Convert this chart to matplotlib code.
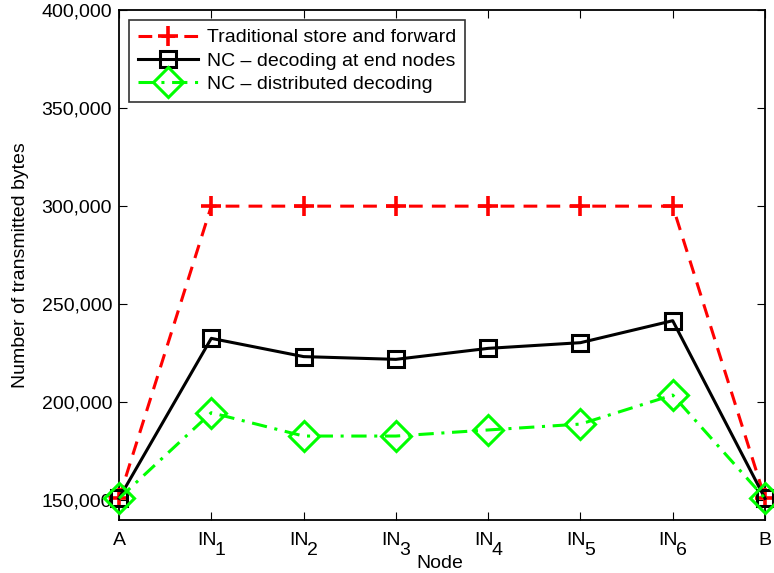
import matplotlib
matplotlib.use("Agg")
import matplotlib.pyplot as plt

plt.rcParams['font.family'] = ['Liberation Sans', 'DejaVu Sans']

node_base = ['A', 'IN', 'IN', 'IN', 'IN', 'IN', 'IN', 'B']
node_sub = ['', '1', '2', '3', '4', '5', '6', '']
traditional = [151000, 300000, 300000, 300000, 300000, 300000, 300000, 151000]
nc_end = [151000, 232600, 223300, 221900, 227500, 230400, 241600, 151000]
nc_dist = [151000, 194700, 182800, 182800, 185900, 188900, 203700, 151000]
yticks = [150000, 200000, 250000, 300000, 350000, 400000]
ytick_labels = ['150,000', '200,000', '250,000', '300,000', '350,000', '400,000']

FS = 14
fig = plt.figure(figsize=(7.74, 5.73), dpi=100)
ax = fig.add_axes([119/774, 1-520/573, (765-119)/774, (520-10)/573])

x = list(range(len(node_base)))
ax.plot(x, traditional, color='#ff0000', linestyle=(0, (4.5, 3)), linewidth=2.2,
        marker='+', markersize=14, markeredgewidth=2.6, clip_on=False, zorder=3,
        label='Traditional store and forward')
ax.plot(x, nc_end, color='black', linestyle='-', linewidth=2.2,
        marker='s', markersize=11, markeredgewidth=2.2, markerfacecolor='none',
        clip_on=False, zorder=4, label='NC \u2013 decoding at end nodes')
ax.plot(x, nc_dist, color='#00ff00', linestyle=(0, (5, 2.5, 1, 2.5)), linewidth=2.2,
        marker='D', markersize=15, markeredgewidth=2.2, markerfacecolor='none',
        clip_on=False, zorder=5, label='NC \u2013 distributed decoding')

ax.set_xlim(0, 7)
ax.set_ylim(140000, 400000)
ax.set_xticks(x)
ax.set_xticklabels([''] * len(x))
ax.set_yticks(yticks)
ax.set_yticklabels(ytick_labels, fontsize=FS)
ax.tick_params(direction='in', top=True, right=True, length=6, width=0.8, pad=5)
for s in ax.spines.values():
    s.set_linewidth(1.3)

# x tick labels with MATLAB-style subscripts (full-size digit, lowered)
fig.canvas.draw()
r = fig.canvas.get_renderer()
base_off = -12
sub_off = -22
for i, (b, s) in enumerate(zip(node_base, node_sub)):
    t1 = ax.annotate(b, xy=(i, 0), xycoords=('data', 'axes fraction'),
                     xytext=(0, base_off), textcoords='offset pixels',
                     ha='left', va='top', fontsize=FS, annotation_clip=False)
    w1 = t1.get_window_extent(r).width
    if s:
        t2 = ax.annotate(s, xy=(i, 0), xycoords=('data', 'axes fraction'),
                         xytext=(0, sub_off), textcoords='offset pixels',
                         ha='left', va='top', fontsize=FS, annotation_clip=False)
        w2 = t2.get_window_extent(r).width
        gap = -2
        total = w1 + gap + w2
        t1.xyann = (-total / 2, base_off)
        t2.xyann = (-total / 2 + w1 + gap, sub_off)
    else:
        t1.xyann = (-w1 / 2, base_off)

ax.set_xlabel('Node', fontsize=FS)
ax.xaxis.label.set_va('center')
ax.xaxis.set_label_coords((440 - 119) / 646, (520 - 563) / 510)
ax.set_ylabel('Number of transmitted bytes', fontsize=FS)
ax.yaxis.label.set_va('center')
ax.yaxis.set_label_coords((21 - 119) / 646, 0.5)

leg = ax.legend(loc='upper left', bbox_to_anchor=(10/646, 500/510), fontsize=FS,
                handlelength=3.1, frameon=True, fancybox=False, edgecolor='black',
                borderpad=0.45, labelspacing=0.3, handletextpad=0.45, borderaxespad=0)
leg.get_frame().set_linewidth(1.2)

fig.savefig('out.png', dpi=100)
